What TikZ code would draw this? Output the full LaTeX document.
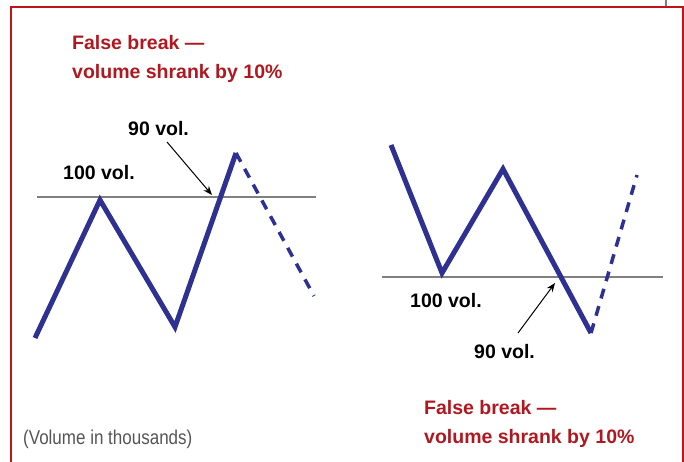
\documentclass[tikz,border=0pt]{standalone}
\usepackage{fontspec}
\setmainfont{Liberation Sans}
\newfontfamily\condfont[FakeStretch=0.85]{Liberation Sans}
\usetikzlibrary{arrows.meta}
\definecolor{framered}{HTML}{C0141C}
\definecolor{textred}{HTML}{B01820}
\definecolor{lineblue}{HTML}{2E3192}
\definecolor{refgray}{HTML}{808080}
\definecolor{notegray}{HTML}{555555}
\tikzset{
  frameline/.style={framered, line width=2pt},
  level/.style={refgray, line width=1.5pt},
  price/.style={lineblue, line width=5pt, line join=miter, line cap=butt},
  future/.style={lineblue, line width=3.5pt, dash pattern=on 10pt off 8pt},
  pointer/.style={black, line width=1pt, -{Stealth[length=9pt,width=7pt]}},
  heading/.style={textred, anchor=base west, align=left, inner sep=0pt, font=\bfseries\fontsize{19.5}{29}\selectfont},
  vollabel/.style={black, anchor=base west, inner sep=0pt, font=\bfseries\fontsize{19.5}{23}\selectfont},
  note/.style={notegray, anchor=base west, inner sep=0pt, font=\condfont\fontsize{20}{24}\selectfont}
}
\begin{document}
\begin{tikzpicture}[x=1pt,y=-1pt]
\useasboundingbox (0,0) rectangle (684,462);
% frame
\draw[refgray, line width=2pt] (666,0) -- (666,7);
\draw[frameline] (11,462) -- (11,7) -- (683,7) -- (683,462);
% left chart
\coordinate (l0) at (35,338);
\coordinate (l1) at (100,200);
\coordinate (l2) at (175,327);
\coordinate (l3) at (236,153);
\coordinate (l4) at (314,296);
\coordinate (la) at (37,197);
\coordinate (lb) at (316,197);
\draw[level] (la) -- (lb);
\draw[price] (l0) -- (l1) -- (l2) -- (l3);
\draw[future] (l3) -- (l4);
\node[heading] (h1) at (72,79) {False break —\\volume shrank by 10\%};
\node[vollabel] (v100l) at (63,180) {100 vol.};
\node[vollabel] (v90l) at (128,136) {90 vol.};
\coordinate (lt) at (212,195);
\draw[pointer] (167,142) coordinate (ls) -- (lt);
% right chart
\coordinate (r0) at (391,145);
\coordinate (r1) at (442,273);
\coordinate (r2) at (503,169);
\coordinate (r3) at (591,333);
\coordinate (r4) at (637,175);
\coordinate (ra) at (382,277);
\coordinate (rb) at (663,277);
\draw[level] (ra) -- (rb);
\draw[price] (r0) -- (r1) -- (r2) -- (r3);
\draw[future] (r3) -- (r4);
\node[heading] (h2) at (424,443) {False break —\\volume shrank by 10\%};
\node[vollabel] (v100r) at (410,307) {100 vol.};
\node[vollabel] (v90r) at (474,358) {90 vol.};
\coordinate (rt) at (555,283);
\draw[pointer] (518,333) coordinate (rs) -- (rt);
% note
\node[note] (nt) at (23,444) {(Volume in thousands)};
\end{tikzpicture}
\end{document}
